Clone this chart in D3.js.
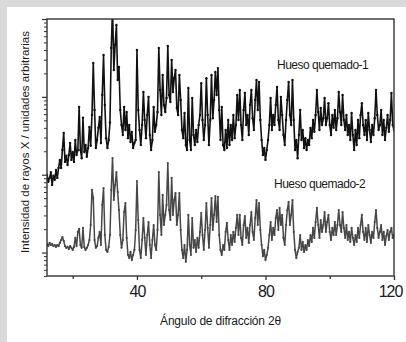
<!DOCTYPE html>
<html>
<head>
<meta charset="utf-8">
<script src="https://cdn.jsdelivr.net/npm/d3@7"></script>
<style>
  html, body { margin: 0; padding: 0; background: #dadada; }
  svg { display: block; }
  text { font-family: "Liberation Sans", Arial, Helvetica, sans-serif; fill: #1a1a1a; }
</style>
</head>
<body>
<svg id="chart" width="406" height="342"></svg>
<script>
// Diffraction scan: start angle and step (degrees 2θ)
const scanStart = 12;
const scanStep = 0.4;

// Hueso quemado-1 intensities (arbitrary units), one per scan step
const intensity1 = [
  100, 81, 91, 108, 74, 97, 86, 115, 91, 122,
  155, 122, 208, 345, 146, 175, 133, 179, 255, 155,
  196, 146, 279, 179, 208, 740, 208, 163, 540, 196,
  241, 170, 220, 410, 235, 585, 2720, 678, 220, 279,
  400, 550, 255, 1056, 3450, 786, 295, 220, 279, 470,
  4240, 14000, 2213, 4635, 8380, 1646, 2420, 678, 435, 324,
  740, 375, 640, 295, 435, 263, 355, 220, 255, 279,
  4000, 678, 375, 241, 435, 1155, 504, 295, 585, 1000,
  324, 208, 279, 740, 355, 435, 640, 4240, 1225, 585,
  1908, 786, 640, 970, 4500, 1056, 860, 2975, 1155, 1740,
  2213, 720, 585, 1908, 911, 375, 295, 620, 241, 208,
  1300, 279, 208, 970, 324, 241, 375, 263, 435, 585,
  1500, 504, 279, 435, 1740, 585, 241, 504, 1908, 530,
  911, 2090, 1056, 2340, 678, 279, 740, 241, 208, 375,
  220, 504, 241, 435, 279, 585, 295, 435, 1056, 504,
  1225, 435, 279, 678, 1120, 435, 585, 324, 786, 1225,
  530, 375, 911, 1646, 678, 1550, 504, 279, 179, 220,
  155, 208, 279, 435, 970, 375, 585, 435, 786, 1340,
  504, 375, 1000, 585, 324, 241, 504, 911, 1550, 585,
  435, 1646, 504, 208, 279, 163, 324, 678, 279, 375,
  220, 295, 208, 279, 241, 400, 295, 504, 355, 585,
  1225, 640, 375, 720, 435, 530, 970, 435, 530, 830,
  435, 324, 585, 400, 678, 375, 530, 1155, 640, 435,
  1056, 504, 375, 585, 324, 435, 279, 620, 324, 208,
  375, 241, 504, 295, 585, 830, 435, 324, 504, 279,
  620, 375, 263, 435, 324, 530, 1225, 585, 375, 435,
  678, 324, 504, 279, 400, 585, 355, 504, 1120, 435,
  375
];

// Hueso quemado-2 intensities (arbitrary units), one per scan step
const intensity2 = [
  12.9, 12.1, 13.3, 12.5, 12.9, 12.1, 12.5, 11.8, 12.5, 12.1,
  13.3, 14.5, 15.8, 14.1, 12.1, 11.5, 11.8, 11.1, 12.1, 11.5,
  10.8, 11.8, 15.4, 12.1, 18.4, 20.1, 12.5, 11.5, 20.7, 11.8,
  10.8, 11.5, 12.5, 14.5, 22.6, 63.7, 50.2, 14.5, 11.5, 12.1,
  15.4, 18.4, 12.5, 40.8, 67.5, 16.8, 10.8, 10.2, 11.8, 16.8,
  63.7, 164, 47.3, 73.8, 108, 60, 35.2, 16.8, 11.5, 14.5,
  33.2, 43.3, 15.4, 9.3, 8.5, 10.2, 8.0, 9.3, 10.8, 19.5,
  83, 26.2, 10.8, 8.5, 14.5, 27.8, 15.4, 9.3, 16.8, 24.7,
  12.5, 8.5, 14.5, 22.6, 12.5, 10.8, 19.5, 108, 30.4, 16.8,
  55, 22.6, 30.4, 40.8, 141, 35.2, 26.2, 90.8, 30.4, 47.3,
  58.2, 22.6, 30.4, 58.2, 19.5, 10.8, 8.5, 12.5, 7.6, 10.8,
  30.4, 12.5, 9.3, 27.8, 11.5, 14.5, 10.2, 15.4, 11.5, 18.4,
  32.2, 16.8, 10.8, 19.5, 43.3, 20.7, 11.5, 22.6, 50.2, 19.5,
  30.4, 53.3, 24.7, 51.8, 16.8, 10.8, 9.3, 12.5, 10.8, 18.4,
  24, 14.5, 10.8, 16.8, 12.5, 18.4, 13.7, 20.7, 30.4, 16.8,
  30.4, 15.4, 12.5, 22.6, 29.5, 15.4, 20.7, 13.3, 22.6, 33.2,
  18.4, 14.5, 27.8, 47.3, 22.6, 43.3, 19.5, 12.5, 9.0, 10.8,
  8.0, 9.3, 11.5, 16.8, 24.7, 14.5, 20.7, 16.8, 27.8, 35.2,
  19.5, 37.4, 22.6, 30.4, 15.4, 12.5, 22.6, 35.2, 44.7, 22.6,
  30.4, 47.3, 18.4, 10.8, 8.5, 10.2, 11.5, 16.8, 10.8, 13.7,
  10.2, 12.5, 10.8, 14.5, 12.1, 16.8, 13.7, 20.7, 15.4, 24.7,
  37.4, 22.6, 15.4, 26.2, 18.4, 22.6, 33.2, 18.4, 24.7, 30.4,
  18.4, 14.5, 20.7, 16.8, 24.7, 16.8, 22.6, 35.2, 22.6, 18.4,
  33.2, 20.7, 15.4, 22.6, 14.5, 18.4, 13.7, 20.7, 15.4, 12.5,
  16.8, 13.7, 20.7, 15.4, 22.6, 30.4, 18.4, 14.5, 20.7, 13.7,
  22.6, 16.8, 13.3, 18.4, 15.4, 24.7, 35.2, 20.7, 15.4, 18.4,
  22.6, 14.5, 18.4, 12.5, 16.3, 19.5, 14.5, 18.4, 20.7, 15.4,
  16.8
];

const seriesNames = ["Hueso quemado-1", "Hueso quemado-2"];
const xMajorTicks = [40, 80, 120];
const xMinorTicks = [20, 60, 100];
const xDomain = [12, 120];
const yDomain = [5, 10000];

const svg = d3.select("#chart");
const W = 406, H = 342;
const plot = { left: 47, right: 394, top: 19, bottom: 276 };

// page: grey margin with a white sheet
svg.append("rect").attr("width", W).attr("height", H).attr("fill", "#dadada");
svg.append("rect").attr("x", 7).attr("y", 7).attr("width", W - 7).attr("height", H - 7).attr("fill", "#ffffff");

const x = d3.scaleLinear().domain(xDomain).range([plot.left, plot.right]);
const y = d3.scaleLog().domain(yDomain).range([plot.bottom, plot.top]);

svg.append("clipPath").attr("id", "plotClip")
  .append("rect")
  .attr("x", plot.left).attr("y", plot.top)
  .attr("width", plot.right - plot.left).attr("height", plot.bottom - plot.top);

// scans
const toPoints = arr => arr.map((v, i) => ({ t: scanStart + i * scanStep, v }));
const series = [
  { name: seriesNames[0], pts: toPoints(intensity1), color: "#111111", width: 1.6, r: 1.2 },
  { name: seriesNames[1], pts: toPoints(intensity2), color: "#474747", width: 1.5, r: 1.1 }
];

const line = d3.line().x(d => x(d.t)).y(d => y(d.v));
const gData = svg.append("g").attr("clip-path", "url(#plotClip)");

series.forEach(s => {
  gData.append("path")
    .attr("d", line(s.pts))
    .attr("fill", "none")
    .attr("stroke", s.color)
    .attr("stroke-width", s.width)
    .attr("stroke-linejoin", "bevel");
  gData.append("g").selectAll("circle")
    .data(s.pts)
    .join("circle")
    .attr("cx", d => x(d.t))
    .attr("cy", d => y(d.v))
    .attr("r", s.r)
    .attr("fill", s.color);
});

// frame
svg.append("rect")
  .attr("x", plot.left).attr("y", plot.top)
  .attr("width", plot.right - plot.left).attr("height", plot.bottom - plot.top)
  .attr("fill", "none").attr("stroke", "#333").attr("stroke-width", 1.4);

// x axis
const xMajor = svg.append("g")
  .attr("transform", `translate(0,${plot.bottom})`)
  .call(d3.axisBottom(x).tickValues(xMajorTicks).tickSize(4).tickPadding(6).tickFormat(d3.format("d")));
xMajor.select(".domain").remove();
xMajor.selectAll(".tick line").attr("stroke", "#333").attr("stroke-width", 1.3);
xMajor.selectAll(".tick text")
  .attr("font-size", 16).attr("letter-spacing", "-1px")
  .attr("font-family", "Liberation Sans, Arial, sans-serif")
  .attr("fill", "#1a1a1a")
  .attr("dx", d => d === 120 ? -4 : 0);

const xMinor = svg.append("g")
  .attr("transform", `translate(0,${plot.bottom})`)
  .call(d3.axisBottom(x).tickValues(xMinorTicks).tickSize(3).tickFormat(""));
xMinor.select(".domain").remove();
xMinor.selectAll(".tick line").attr("stroke", "#333").attr("stroke-width", 1.3);

// y axis (log, unlabelled)
const decades = [10, 100, 1000, 10000];
const minors = [];
[1, 10, 100, 1000].forEach(b => {
  for (let k = 2; k <= 9; k++) {
    const v = b * k;
    if (v >= yDomain[0] && v <= yDomain[1]) minors.push(v);
  }
});
const yMajor = svg.append("g")
  .attr("transform", `translate(${plot.left},0)`)
  .call(d3.axisLeft(y).tickValues(decades).tickSize(5).tickFormat(""));
yMajor.select(".domain").remove();
yMajor.selectAll(".tick line").attr("stroke", "#333").attr("stroke-width", 1.2);
const yMinor = svg.append("g")
  .attr("transform", `translate(${plot.left},0)`)
  .call(d3.axisLeft(y).tickValues(minors).tickSize(3).tickFormat(""));
yMinor.select(".domain").remove();
yMinor.selectAll(".tick line").attr("stroke", "#333").attr("stroke-width", 1);

// axis titles
svg.append("text")
  .attr("x", (plot.left + plot.right) / 2).attr("y", 325)
  .attr("text-anchor", "middle").attr("font-size", 12).attr("letter-spacing", "-0.2px")
  .text("Ángulo de difracción 2θ");

svg.append("text")
  .attr("transform", "translate(29,142) rotate(-90)")
  .attr("text-anchor", "middle").attr("font-size", 11.5)
  .text("Intensidad de rayos X / unidades arbitrarias");

// series labels
svg.append("text").attr("x", 277).attr("y", 68.5)
  .attr("font-size", 12).attr("letter-spacing", "-0.5px")
  .text(seriesNames[0]);
svg.append("text").attr("x", 274).attr("y", 187.5)
  .attr("font-size", 12).attr("letter-spacing", "-0.5px")
  .text(seriesNames[1]);
</script>
</body>
</html>
